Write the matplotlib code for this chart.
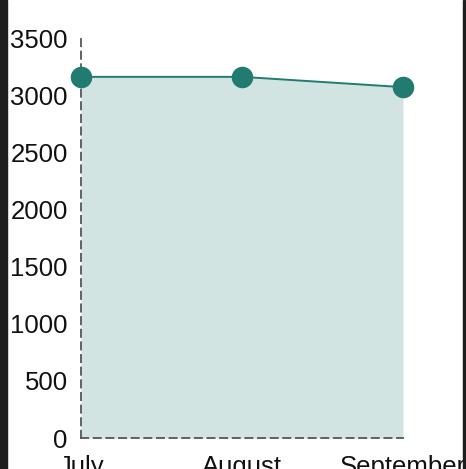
import numpy as np
import matplotlib.pyplot as plt
from matplotlib.patches import Rectangle

months = ['July', 'August', 'September']
values = [3160, 3160, 3070]
yticks = [0, 500, 1000, 1500, 2000, 2500, 3000, 3500]

line_col = '#217b70'
fill_col = '#d1e4e2'

W, H = 466, 469
fig = plt.figure(figsize=(W / 100, H / 100), dpi=100)
ax = fig.add_axes([81 / W, (H - 438) / H, (403 - 81) / W, 400 / H])

x = np.arange(len(months))
ax.fill_between(x, 0, values, color=fill_col, lw=0)
ax.plot(x, values, color=line_col, lw=1.4, zorder=3)
ax.plot(x, values, 'o', color=line_col, ms=14.5, clip_on=False, zorder=4)

ax.set_xlim(0.0123, 2)
ax.set_ylim(0, 3500)
ax.set_yticks(yticks)
ax.set_yticklabels([str(v) for v in yticks])
ax.set_xticks(x)
ax.set_xticklabels(months)
ax.tick_params(length=0, labelsize=18.5, pad=9.5)
ax.tick_params(axis='x', pad=12)
for lab in ax.get_xticklabels() + ax.get_yticklabels():
    lab.set_fontfamily('Liberation Sans')
    lab.set_color('#111111')

for s in ['top', 'right']:
    ax.spines[s].set_visible(False)
for s in ['left', 'bottom']:
    ax.spines[s].set_linestyle((0, (4, 3)))
    ax.spines[s].set_color('#555555')
    ax.spines[s].set_linewidth(1.3)

# dark window edges
fig.patches.append(Rectangle((0, 0), 7 / W, 1, transform=fig.transFigure, color='#1e1e1e', zorder=10))
fig.patches.append(Rectangle((463 / W, 0), 1.5 / W, 1, transform=fig.transFigure, color='#1e1e1e', zorder=10))

fig.savefig('out.png', dpi=100)
